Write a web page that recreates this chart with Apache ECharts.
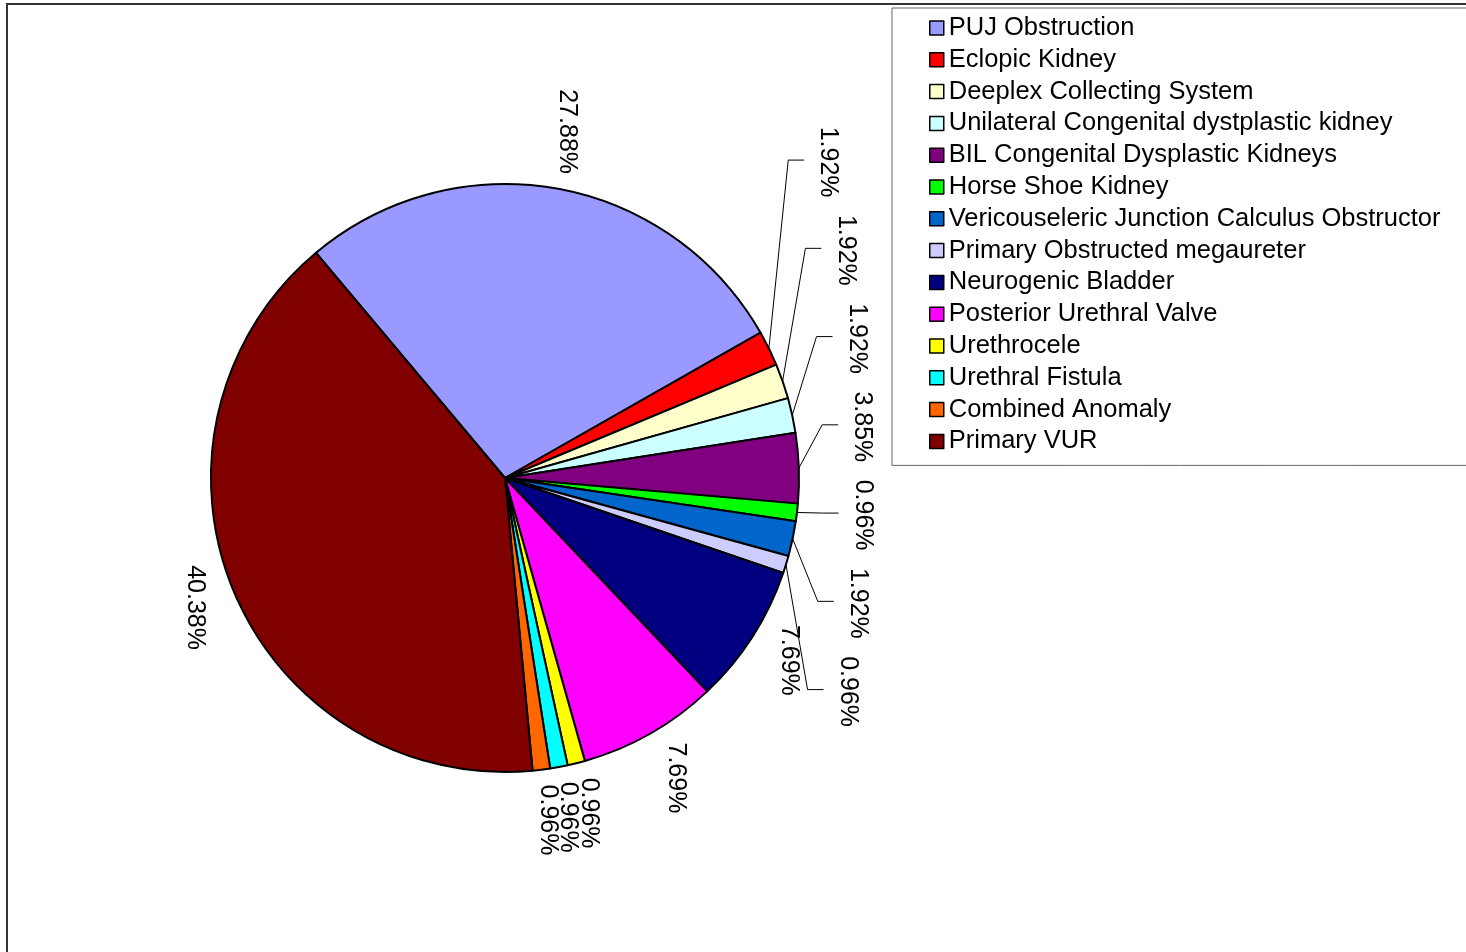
<!DOCTYPE html>
<html>
<head>
<meta charset="utf-8">
<script src="https://cdn.jsdelivr.net/npm/echarts@6/dist/echarts.min.js"></script>
<style>
  html, body { margin: 0; padding: 0; background: #ffffff; }
  #chart { width: 1466px; height: 952px; }
</style>
</head>
<body>
<div id="chart"></div>
<script>
// Case counts per anomaly (104 cases in total)
const categories = [
  'PUJ Obstruction',
  'Eclopic Kidney',
  'Deeplex Collecting System',
  'Unilateral Congenital dystplastic kidney',
  'BIL Congenital Dysplastic Kidneys',
  'Horse Shoe Kidney',
  'Vericouseleric Junction Calculus Obstructor',
  'Primary Obstructed megaureter',
  'Neurogenic Bladder',
  'Posterior Urethral Valve',
  'Urethrocele',
  'Urethral Fistula',
  'Combined Anomaly',
  'Primary VUR'
];
const counts = [29, 2, 2, 2, 4, 1, 2, 1, 8, 8, 1, 1, 1, 42];
const sliceColors = [
  '#9999FF', '#FF0000', '#FFFFCC', '#CCFFFF', '#800080', '#00FF00', '#0066CC',
  '#CCCCFF', '#000080', '#FF00FF', '#FFFF00', '#00FFFF', '#FF6600', '#800000'
];

// Pie geometry
const CX = 505, CY = 478, R = 294, START = 130;
const FONT = "'Liberation Sans', Arial, Helvetica, sans-serif";
const LABEL_SIZE = 25;

const total = counts.reduce((a, b) => a + b, 0);
const rad = d => d * Math.PI / 180;
const polar = (deg, r) => [CX + r * Math.cos(rad(deg)), CY - r * Math.sin(rad(deg))];

// Mid angle of every slice; slices run clockwise from START
const midAngles = [];
{
  let acc = START;
  counts.forEach(v => {
    const span = v / total * 360;
    midAngles.push(acc - span / 2);
    acc -= span;
  });
}

// Thin slices on the right side get their labels stacked in a column with leader lines
const stacked = counts.map((v, i) => v / total < 0.05 && Math.cos(rad(midAngles[i])) > Math.SQRT1_2);
const stackIdx = counts.map((_, i) => i).filter(i => stacked[i]);
const stackPos = {};
{
  const step = LABEL_SIZE * 3.53;
  const meanY = stackIdx.reduce((s, i) => s + polar(midAngles[i], R)[1], 0) / stackIdx.length;
  const centerY = meanY - step * 0.39;
  const A = R + 64, B = R * 2.5;
  stackIdx.forEach((i, k) => {
    const y = centerY + (k - (stackIdx.length - 1) / 2) * step;
    const dy = y - CY;
    const x = CX + A * Math.sqrt(Math.max(0, 1 - (dy / B) * (dy / B)));
    stackPos[i] = [x, y];
  });
}

const chart = echarts.init(document.getElementById('chart'), null, { renderer: 'canvas' });

chart.setOption({
  animation: false,
  backgroundColor: '#ffffff',
  graphic: [{
    type: 'rect',
    shape: { x: 7, y: 4, width: 2000, height: 2000 },
    style: { fill: 'none', stroke: '#333333', lineWidth: 2 },
    silent: true
  }],
  legend: {
    orient: 'vertical',
    left: 892,
    top: 8,
    padding: [7, 40, 11, 37],
    borderColor: '#666666',
    borderWidth: 1,
    icon: 'rect',
    itemWidth: 14,
    itemHeight: 14,
    itemGap: 5.8,
    itemTextGap: 12,
    itemStyle: { borderColor: '#000000', borderWidth: 1.5 },
    textStyle: { color: '#000000', fontSize: 25.5, lineHeight: 26, fontFamily: FONT },
    data: categories
  },
  series: [{
    type: 'pie',
    center: [CX, CY],
    radius: R,
    startAngle: START,
    clockwise: true,
    avoidLabelOverlap: false,
    itemStyle: { borderColor: '#000000', borderWidth: 2 },
    label: {
      show: true,
      position: 'outside',
      rotate: -90,
      color: '#000000',
      fontSize: LABEL_SIZE,
      fontFamily: FONT,
      formatter: p => (p.value / total * 100).toFixed(2) + '%'
    },
    labelLine: { show: true, lineStyle: { color: '#000000', width: 1 } },
    labelLayout: params => {
      const i = params.dataIndex;
      if (stacked[i]) {
        const [x, y] = stackPos[i];
        return {
          x, y, align: 'center', verticalAlign: 'middle', rotate: -90,
          labelLinePoints: [polar(midAngles[i], R), [x - 40, y - 2], [x - 24, y - 2]]
        };
      }
      const w = params.labelRect.width, h = params.labelRect.height;
      const hw = Math.min(w, h) / 2, hh = Math.max(w, h) / 2;
      const a = rad(midAngles[i]);
      const r = R + 14 + hw * Math.abs(Math.cos(a)) + hh * Math.abs(Math.sin(a));
      const [x, y] = polar(midAngles[i], r);
      return { x, y, align: 'center', verticalAlign: 'middle', rotate: -90 };
    },
    emphasis: { disabled: true },
    data: categories.map((name, i) => ({
      name,
      value: counts[i],
      itemStyle: { color: sliceColors[i] },
      labelLine: { show: stacked[i] }
    }))
  }]
});
</script>
</body>
</html>
